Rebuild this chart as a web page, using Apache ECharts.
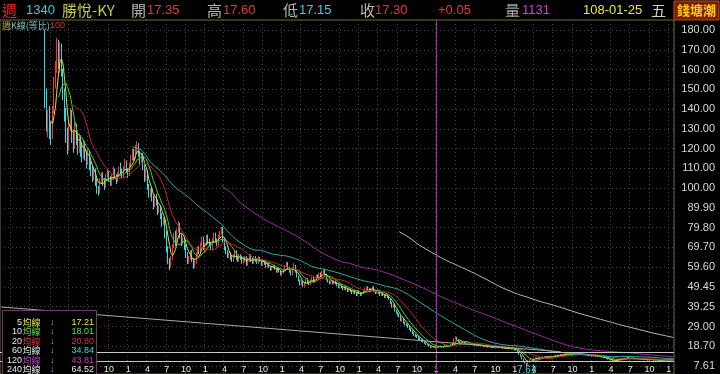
<!DOCTYPE html>
<html><head><meta charset="utf-8">
<script src="https://cdn.jsdelivr.net/npm/echarts/dist/echarts.min.js"></script>
<style>html,body{margin:0;padding:0;background:#000;overflow:hidden}#chart{width:720px;height:374px}</style>
</head><body><div id="chart"></div>
<script>
// ---------------- DATA ----------------
const lastWeekDate = '2019-01-25';
const emptyLeadWeeks = 30;
// weekly candles [open, close, low, high]
const kline = [
[178,146,140,180],[146,132,128,150],[132,136,125,139],[136,127,124,141],[127,125,121,133],[125,139,124,141],[139,153,137,156],[153,161,150,164],[161,170,158,176],[170,165,160,175],
[165,171,158,174],[171,159,156,173],[159,148,144,160],[148,136,133,150],[136,126,122,140],[126,120,116,130],[120,131,118,134],[131,137,128,140],[137,125,122,139],[125,121,117,128],
[121,130,119,133],[130,124,121,132],[124,119,116,127],[119,125,117,127],[125,118,115,126],[118,115,112,121],[115,122,114,124],[122,116,113,123],[116,112,109,118],[112,117,111,119],
[117,111,108,118],[111,107,105,113],[107,104,102,110],[104,108,103,110],[108,102,100,109],[102,98,96,104],[98,97,95,100],[97,103,96,104],[103,106,101,107],[106,102,100,107],
[102,100,98,104],[100,105,99,106],[105,107,104,109],[107,104,102,108],[104,101,100,105],[101,104,100,106],[104,108,103,110],[108,105,104,109],[105,103,101,106],[103,106,102,107],
[106,109,105,110],[109,108,106,112],[108,105,104,109],[105,109,104,110],[109,112,108,114],[112,108,107,113],[108,106,104,109],[106,111,105,112],[111,114,110,116],[114,118,113,119],
[118,115,113,119],[115,120,114,121],[120,121,117,123],[121,117,115,122],[117,113,111,118],[113,116,112,117],[116,110,108,117],[110,104,102,111],[104,107,103,109],[107,100,98,108],
[100,96,94,101],[96,98,94,99],[98,94,92,99],[94,90,88,95],[90,95,89,96],[95,92,90,96],[92,87,85,93],[87,89,86,90],[89,85,83,90],[85,81,79,86],
[81,83,80,84],[83,75,73,84],[75,68,66,77],[68,62,60,69],[62,59,56.9,63],[59,63,58,64],[63,69,62,70],[69,75,68,76],[75,71,69,77],[71,77,70,78],
[77,80,76,82],[80,75,73,81],[75,71,69,76],[71,73,70,74],[73,69,67,74],[69,65,63,70],[65,61,60,66],[61,63,60,64],[63,66,62,67],[66,62,61,67],
[62,59,57.5,63],[59,61,58,62],[61,65,60,66],[65,68,64,69],[68,66,65,69],[66,70,65,71],[70,73,69,74],[73,68,67,74],[68,70,66,71],[70,74,69,75],
[74,72,70,75],[72,70,69,73],[70,68,67,71],[68,72,67,73],[72,75,71,76],[75,72,71,76],[72,70,69,73],[70,74,69,75],[74,76,73,77],[76,78,75,79],
[78,72,71,79],[72,68,67,73],[68,66,65,69],[66,64,63,67],[64,65,63,66],[65,63,62,66],[63,62,61,64],[62,64,61,65],[64,66,63,67],[66,63,62,67],
[63,62,61,64],[62,64,61,65],[64,63,62,65],[63,61,60,64],[61,62,60,63],[62,63,61,64],[63,60,59,64],[60,62,59,63],[62,64,61,65],[64,62,61,65],
[62,61,60,63],[61,63,60,64],[63,62,61,64],[62,61,60,63],[61,63,60,64],[63,61.5,61,63.5],[61.5,60,59,62],[60,61,59,61.5],[61,60,59.5,62],[60,58.5,58,60.5],
[58.5,60,58,60.5],[60,58.5,58,60.5],[58.5,57,56.5,59],[57,58,56.5,58.5],[58,59,57.5,59.5],[59,57.5,57,59.5],[57.5,56,55.5,58],[56,57.5,55.5,58],[57.5,56,55.5,58],[56,54.5,54,56.5],
[54.5,55.5,54,56],[55.5,57,55,57.5],[57,59,56.5,59.5],[59,60.5,58.5,61],[60.5,58,57.5,61],[58,56,55.5,58.5],[56,54.5,54,56.5],[54.5,57.5,54,58],[57.5,59,57,60.5],[59,56,55.5,59.5],
[56,53.5,53,56.5],[53.5,51.5,51,54],[51.5,49.5,49,52],[49.5,51,49,51.5],[51,48.5,48,51.5],[48.5,50,48,50.5],[50,52,49.5,52.5],[52,50.5,50,52.5],[50.5,49.5,49,51],[49.5,51.5,49,52],
[51.5,53,51,53.5],[53,51,50.5,53.5],[51,52,50.5,52.5],[52,54,51.5,54.5],[54,53,52.5,54.5],[53,55,52.5,55.5],[55,53.5,53,55.5],[53.5,56,53,56.5],[56,56.5,55,57.5],[56.5,54.5,54,57],
[54.5,52,51.5,55],[52,51,50.5,52.5],[51,50,49.5,51.5],[50,51,49.5,51.5],[51,50,49.5,51.5],[50,51,49.5,51.5],[51,50,49.5,51.5],[50,49,48.5,50.5],[49,48,47.5,49.5],[48,49,47.5,49.5],
[49,48,47.5,49.5],[48,47,46.5,48.5],[47,48,46.5,48.5],[48,47,46.5,48.5],[47,46,45.5,47.5],[46,47,45.5,47.5],[47,46,45.5,47.5],[46,45,44.5,46.5],[45,46,44.5,46.5],[46,45,44.5,46.5],
[45,44,43.5,45.5],[44,46,43.5,46.5],[46,45,44.5,46.5],[45,44,43.5,45.5],[44,45,43.5,45.5],[45,46,44.5,46.5],[46,47,45.5,47.5],[47,48,46.5,48.5],[48,47,46.5,48.5],[47,46,45.5,47.5],
[46,47,45.5,47.5],[47,48,46.5,48.5],[48,46,45.5,48.5],[46,45,44.5,46.5],[45,46,44.5,46.5],[46,45,44.5,46.5],[45,44,43.5,45.5],[44,45,43.5,45.5],[45,44,43.5,45.5],[44,43,42.5,44.5],
[43,44,42.5,44.5],[44,43,42.5,44.5],[43,42,41.5,43.5],[42,40,39.5,42.5],[40,38,37.5,40.5],[38,39,37.5,39.5],[39,36,35.5,39.5],[36,35,34.5,36.5],[35,34,33.5,35.5],[34,33,32.5,34.5],
[33,31,30.5,33.5],[31,32,30.5,32.5],[32,30,29.5,32.5],[30,29,28.5,30.5],[29,28.5,28,29.5],[28.5,27.5,27,29],[27.5,26.5,26,28],[26.5,25.5,25,27],[25.5,24.5,24,26],[24.5,23.5,23,25],
[23.5,23,22.5,24],[23,22.5,22,23.5],[22.5,21.5,21,23],[21.5,21,20.5,22],[21,20.4,20,21.5],[20.4,20,19.6,20.8],[20,19.2,19,20.3],[19.2,18.6,18.4,19.5],[18.6,18.4,18.1,19],[18.4,17.85,17.6,18.6],
[17.85,17,16.8,18],[17,17.1,16.8,17.4],[17.1,17.4,17,17.6],[17.4,17.25,17.1,17.5],[17.35,17.3,17.15,17.6],[17.3,17.5,17.1,17.7],[17.5,18,17.4,18.2],[18,17.6,17.4,18.1],[17.6,17.2,17,17.7],[17.2,17.8,17.1,17.9],
[17.8,18.3,17.7,18.5],[18.3,18,17.8,18.4],[18,17.6,17.4,18.1],[17.6,18.2,17.5,18.3],[18.2,18.8,18.1,18.9],[18.8,19.5,18.6,19.7],[19.5,21.5,19.4,21.8],[21.5,22.5,21.2,22.8],[22.5,21,20.8,22.6],[21,20.2,20,21.2],
[20.2,19.8,19.6,20.4],[19.8,19.5,19.3,19.9],[19.5,19.8,19.4,20],[19.8,19.2,19.1,19.9],[19.2,18.8,18.6,19.3],[18.8,19.3,18.7,19.4],[19.3,19,18.9,19.4],[19,18.6,18.5,19.1],[18.6,18.9,18.5,19],[18.9,18.4,18.3,19],
[18.4,18.2,18,18.5],[18.2,18.6,18.1,18.7],[18.6,18.1,18,18.7],[18.1,17.8,17.7,18.2],[17.8,18.2,17.7,18.3],[18.2,17.9,17.8,18.3],[17.9,17.5,17.4,18],[17.5,17.8,17.4,17.9],[17.8,17.4,17.3,17.9],[17.4,17.2,17.1,17.5],
[17.2,17.6,17.1,17.7],[17.6,17.3,17.2,17.7],[17.3,17,16.9,17.4],[17,17.4,16.9,17.5],[17.4,17.8,17.3,18],[17.8,17.2,17.1,17.9],[17.2,16.9,16.8,17.3],[16.9,17.1,16.8,17.2],[17.1,16.8,16.7,17.2],[16.8,16.5,16.4,16.9],
[16.5,16.9,16.4,17],[16.9,16.6,16.5,17],[16.6,16.3,16.2,16.7],[16.3,16.7,16.2,16.8],[16.7,16.4,16.3,16.8],[16.4,16.2,16.1,16.5],[16.2,16.5,16.1,16.6],[16.5,16,15.9,16.6],[16,15.6,15.4,16.1],[15.6,14.8,14.6,15.7],
[14.8,13.6,13.4,14.9],[13.6,12.5,12.3,13.7],[12.5,11.2,11,12.6],[11.2,10,9.8,11.3],[10,9,8.8,10.1],[9,8.4,7.61,9.2],[8.4,10.2,8.3,10.4],[10.2,10.8,10.1,11],[10.8,11.3,10.7,11.5],[11.3,11,10.9,11.4],
[11,11.6,10.9,11.8],[11.6,11.9,11.5,12.1],[11.9,11.5,11.4,12],[11.5,11.8,11.4,12],[11.8,12.2,11.7,12.4],[12.2,11.9,11.8,12.3],[11.9,12.4,11.8,12.6],[12.4,12.1,12,12.5],[12.1,12.6,12,12.8],[12.6,12.3,12.2,12.7],
[12.3,12,11.9,12.4],[12,12.5,11.9,12.7],[12.5,12.8,12.4,13],[12.8,12.4,12.3,12.9],[12.4,12.9,12.3,13.1],[12.9,13.2,12.8,13.4],[13.2,12.8,12.7,13.3],[12.8,13.3,12.7,13.5],[13.3,13.6,13.2,13.8],[13.6,13.1,13,13.7],
[13.1,13.5,13,13.7],[13.5,13.9,13.4,14.1],[13.9,13.4,13.3,14],[13.4,13.8,13.3,14],[13.8,14.1,13.7,14.3],[14.1,13.7,13.6,14.2],[13.7,13.4,13.3,13.8],[13.4,13.9,13.3,14.1],[13.9,14.2,13.8,14.4],[14.2,13.8,13.7,14.3],
[13.8,13.5,13.4,13.9],[13.5,13.9,13.4,14],[13.9,13.6,13.5,14],[13.6,13.2,13.1,13.7],[13.2,13.5,13.1,13.6],[13.5,13.1,13,13.6],[13.1,12.8,12.7,13.2],[12.8,13.2,12.7,13.3],[13.2,12.9,12.8,13.3],[12.9,12.6,12.5,13],
[12.6,13,12.5,13.1],[13,12.7,12.6,13.1],[12.7,12.4,12.3,12.8],[12.4,12.8,12.3,12.9],[12.8,12.5,12.4,12.9],[12.5,12.2,12.1,12.6],[12.2,12,11.9,12.3],[12,11.6,11.5,12.1],[11.6,11.9,11.5,12],[11.9,11.4,11.3,12],
[11.4,11,10.9,11.5],[11,10.6,10.5,11.1],[10.6,10.9,10.5,11],[10.9,10.2,10.1,11],[10.2,9.8,9.6,10.3],[9.8,10.4,9.7,10.5],[10.4,10.9,10.3,11],[10.9,11.3,10.8,11.4],[11.3,11,10.9,11.4],[11,11.5,10.9,11.6],
[11.5,11.8,11.4,11.9],[11.8,11.4,11.3,11.9],[11.4,11.7,11.3,11.8],[11.7,12,11.6,12.1],[12,11.6,11.5,12.1],[11.6,11.3,11.2,11.7],[11.3,11.7,11.2,11.8],[11.7,11.4,11.3,11.8],[11.4,11.1,11,11.5],[11.1,11.5,11,11.6],
[11.5,11.2,11.1,11.6],[11.2,10.9,10.8,11.3],[10.9,11.3,10.8,11.4],[11.3,11,10.9,11.4],[11,10.7,10.6,11.1],[10.7,11.1,10.6,11.2],[11.1,10.8,10.7,11.2],[10.8,10.5,10.4,10.9],[10.5,10.9,10.4,11],[10.9,11.2,10.8,11.3],
[11.2,10.8,10.7,11.3],[10.8,10.5,10.4,10.9],[10.5,10.9,10.4,11],[10.9,10.6,10.5,11],[10.6,10.3,10.2,10.7],[10.3,10.7,10.2,10.8],[10.7,10.4,10.3,10.8],[10.4,10.8,10.3,10.9],[10.8,11.1,10.7,11.2],[11.1,10.8,10.7,11.2],
[10.8,10.5,10.4,10.9],[10.5,10.9,10.4,11],[10.9,10.6,10.5,11],[10.6,10.9,10.5,11],[10.9,11.1,10.8,11.2]
];
const maPeriods = [5, 10, 20, 60, 120, 240];
const maLegendName = '均線';
const maCursorValues = ['17.21', '18.01', '20.80', '34.84', '43.81', '64.52'];
const yTickLabels = ['7.61','18.70','29.00','39.25','49.45','59.60','69.70','79.80','89.90','100.00','110.00','120.00','130.00','140.00','150.00','160.00','170.00','180.00'];
const quarterMonths = [1, 4, 7, 10];
const supportLevels = [14.79, 10.18];
const trendLine = [[0, 37.9], [378, 14.9]];
const cursorWeek = 294;
const periodName = '週';
const stockCode = '1340';
const stockName = '勝悅-KY';
const quoteNames = ['開', '高', '低', '收'];
const quoteValues = ['17.35', '17.60', '17.15', '17.30'];
const priceChange = '+0.05';
const volumeName = '量';
const volumeValue = '1131';
const quoteDate = '108-01-25';
const weekdayName = '五';
const brandName = '錢塘潮';
const chartTitleParts = ['週', 'K線(等比)', '100'];

// ---------------- BUILD ----------------
const LAT = '"Liberation Sans", Arial, sans-serif';
const CJK = '"Noto Sans CJK TC", "Noto Sans CJK SC", sans-serif';
const totalWeeks = emptyLeadWeeks + kline.length;
const endMs = new Date(lastWeekDate + 'T00:00:00Z').getTime();
const weeks = [];
for (let i = totalWeeks - 1; i >= 0; i--) {
  weeks.push(new Date(endMs - i * 7 * 86400000).toISOString().slice(0, 10));
}
const candleData = [];
for (let i = 0; i < emptyLeadWeeks; i++) candleData.push(['-', '-', '-', '-']);
kline.forEach(r => candleData.push(r));
const closes = candleData.map(r => typeof r[1] === 'number' ? r[1] : null);
function movingAverage(n) {
  const out = [];
  for (let i = 0; i < closes.length; i++) {
    if (i < emptyLeadWeeks + n - 1) { out.push('-'); continue; }
    let s = 0;
    for (let j = i - n + 1; j <= i; j++) s += closes[j];
    out.push(+(s / n).toFixed(3));
  }
  return out;
}
function isQuarterStart(idx) {
  const d = weeks[idx];
  const m = +d.slice(5, 7), day = +d.slice(8, 10);
  return day <= 7 && quarterMonths.indexOf(m) >= 0;
}
const maLineColors = ['#dede40', '#40d040', '#c02828', '#30a8a8', '#a028a8', '#b8b8b8'];
const maNameColors = ['#e8e848', '#50e050', '#e03030', '#d8e8e8', '#c040c0', '#e8e8e8'];
const maValueColors = ['#e8e848', '#50e050', '#e03030', '#40d8d8', '#c040c0', '#e8e8e8'];

const maSeries = maPeriods.map((p, k) => ({
  name: 'MA' + p, type: 'line', xAxisIndex: 0, yAxisIndex: 0,
  data: movingAverage(p), symbol: 'none', showSymbol: false, silent: true,
  lineStyle: { width: 1, color: maLineColors[k] }, z: 3
}));

const graphics = [];
function txt(x, y, text, fill, size, family, extra) {
  graphics.push(Object.assign({ type: 'text', x: x, y: y, z: 100,
    style: Object.assign({ text: text, fill: fill, fontSize: size, fontFamily: family, verticalAlign: 'middle', align: 'left' }, extra && extra.style || {}) }, extra && extra.el || {}));
}
// header
txt(2, 10, periodName, '#e82020', 15, CJK);
txt(26, 10, stockCode, '#40c8e0', 13, LAT);
txt(62, 10, stockName, '#c8c84a', 15, CJK);
const qNameX = [131, 207, 283, 360];
const qValX = [147, 223, 299, 375];
const qValColor = ['#ee3333', '#ee3333', '#44ccdd', '#ee3333'];
quoteNames.forEach((q, k) => {
  txt(qNameX[k], 10, q, '#b8b8b8', 15, CJK);
  txt(qValX[k], 10, quoteValues[k], qValColor[k], 13, LAT);
});
txt(438, 10, priceChange, '#ee3333', 13, LAT);
txt(505, 10, volumeName, '#a8a8a8', 15, CJK);
txt(522, 10, volumeValue, '#d040d0', 13, LAT);
txt(583, 10, quoteDate, '#e8e848', 13, LAT);
txt(651, 10, weekdayName, '#d0d0d0', 15, CJK);
graphics.push({ type: 'rect', z: 99, shape: { x: 674, y: 1, width: 45, height: 19 },
  style: { fill: '#7a1c00', stroke: '#b05020', lineWidth: 1 } });
txt(696.5, 10.5, brandName, '#ffd000', 13, CJK, { style: { align: 'center', fontWeight: 'bold' } });
// sub title
txt(2, 26, chartTitleParts[0], '#c0b030', 9, CJK);
txt(11, 26, chartTitleParts[1], '#80c0c8', 9, CJK);
txt(50, 26, chartTitleParts[2], '#e03030', 9, LAT);
// legend box
graphics.push({ type: 'rect', z: 99, shape: { x: 2.5, y: 310.5, width: 94, height: 64 },
  style: { fill: '#000', stroke: '#6c3c6c', lineWidth: 1 } });
maPeriods.forEach((p, k) => {
  const y = 322.5 + k * 9.4;
  txt(22, y, String(p), '#e8e8e8', 9, LAT, { style: { align: 'right' } });
  txt(22.5, y, maLegendName, maNameColors[k], 9, CJK);
  txt(50, y, '↓', '#40d0e0', 9, LAT);
  txt(94, y, maCursorValues[k], maValueColors[k], 9, LAT, { style: { align: 'right' } });
});

const gridLineStyle = { color: '#464646', width: 1, type: [1, 3] };

const option = {
  backgroundColor: '#000',
  animation: false,
  grid: [
    { left: 0, right: 46, top: 20, bottom: 0, show: true, borderColor: '#6c6c38', borderWidth: 1, backgroundColor: 'transparent', containLabel: false, outerBoundsMode: 'none' },
    { left: 0, right: 46, top: 30, bottom: 8, containLabel: false, outerBoundsMode: 'none' }
  ],
  xAxis: [
    { gridIndex: 0, type: 'category', data: weeks, boundaryGap: true,
      axisLine: { show: false }, axisTick: { show: false },
      axisLabel: { inside: true, margin: 0, interval: (idx) => isQuarterStart(idx),
        formatter: (v) => String(+v.slice(5, 7)), color: '#e8e8e8', fontSize: 9, fontFamily: LAT },
      splitLine: { show: true, interval: (idx) => isQuarterStart(idx), lineStyle: gridLineStyle } },
    { gridIndex: 1, type: 'value', show: false, min: 0, max: 1 }
  ],
  yAxis: [
    { gridIndex: 0, type: 'value', min: 3.5, max: 185.13, show: false, splitLine: { show: false } },
    { gridIndex: 1, type: 'value', position: 'right', min: 0, max: 17, interval: 1,
      axisLine: { show: false }, axisTick: { show: false },
      axisLabel: { formatter: (v) => yTickLabels[v] || '', align: 'right', margin: 41, color: '#d8d8d8', fontSize: 11, fontFamily: LAT },
      splitLine: { show: true, lineStyle: gridLineStyle } }
  ],
  graphic: graphics,
  series: [
    { type: 'candlestick', name: 'K', xAxisIndex: 0, yAxisIndex: 0, data: candleData,
      barMaxWidth: 1, silent: true,
      itemStyle: { color: '#ff3030', color0: '#30d8e8', borderColor: '#ff3030', borderColor0: '#30d8e8', borderWidth: 1 },
      markPoint: { symbol: 'circle', symbolSize: 1, silent: true,
        itemStyle: { color: 'rgba(0,0,0,0)' },
        label: { show: true, position: 'bottom', distance: -1, color: '#40d8e8', fontSize: 10, fontFamily: LAT,
          formatter: (p) => String(p.value) },
        data: [{ type: 'min', valueDim: 'lowest' }] },
      markLine: { symbol: ['none', 'none'], silent: true, label: { show: false },
        data: [
          { xAxis: weeks[cursorWeek], lineStyle: { color: '#a030b8', width: 1, type: 'solid' } },
          { yAxis: supportLevels[0], lineStyle: { color: '#c8c8c8', width: 1, type: 'solid' } },
          { yAxis: supportLevels[1], lineStyle: { color: '#c8c8c8', width: 1, type: 'solid' } },
          [ { coord: [weeks[trendLine[0][0]], trendLine[0][1]], lineStyle: { color: '#a8a8a8', width: 1, type: 'solid' } },
            { coord: [weeks[trendLine[1][0]], trendLine[1][1]], lineStyle: { color: '#a8a8a8', width: 1, type: 'solid' } } ]
        ] } }
  ].concat(maSeries)
};
const chart = echarts.init(document.getElementById('chart'), null, { renderer: 'canvas' });
chart.setOption(option);
</script>
</body></html>
